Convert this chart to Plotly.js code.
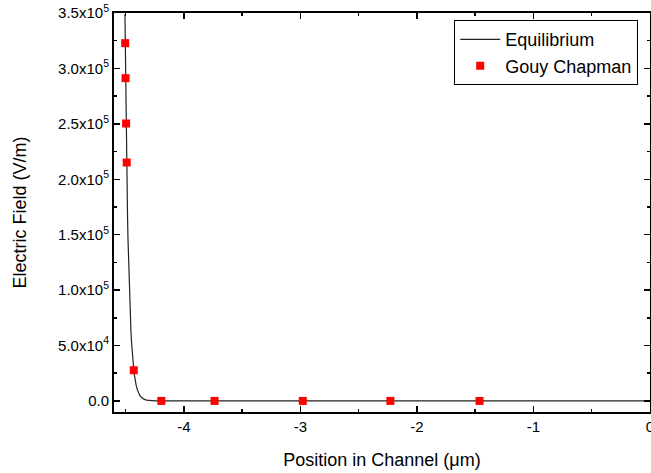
<!DOCTYPE html>
<html>
<head>
<meta charset="utf-8">
<script src="https://cdn.plot.ly/plotly-3.0.1.min.js"></script>
<style>html,body{margin:0;padding:0;background:#fff;}#chart{width:651px;height:473px;}</style>
</head>
<body>
<div id="chart"></div>
<script>
// Equilibrium curve
const eqX = [-4.506, -4.503, -4.500, -4.496, -4.492, -4.488, -4.484, -4.480, -4.475, -4.470,
             -4.465, -4.460, -4.455, -4.450, -4.445, -4.440, -4.435, -4.430, -4.425, -4.420,
             -4.410, -4.400, -4.390, -4.380, -4.370, -4.360, -4.350, -4.340, -4.320, -4.300,
             -4.250, -4.200, -4.000, -3.000, -2.000, -1.000, 0.000];
const eqY = [348800, 315700, 285700, 250000, 218800, 191500, 167600, 146600, 124100, 105100,
             89000, 75300, 63700, 53900, 45700, 38700, 32700, 27700, 23400, 19800,
             14200, 10200, 7300, 5200, 3750, 2700, 1900, 1400, 700, 360,
             70, 0, 0, 0, 0, 0, 0];
// Gouy Chapman points
const gcX = [-4.504, -4.501, -4.496, -4.491, -4.430, -4.194, -3.737, -2.980, -2.228, -1.463];
const gcY = [322800, 291200, 250300, 215100, 27700, 0, 0, 0, 0, 0];
// Tick labels
const xTickVals = [-4, -3, -2, -1, 0];
const xTickText = ["-4", "-3", "-2", "-1", "0"];
const yTickVals = [0, 50000, 100000, 150000, 200000, 250000, 300000, 350000];
const yTickText = ["0.0", "5.0x10<sup>4</sup>", "1.0x10<sup>5</sup>", "1.5x10<sup>5</sup>",
                   "2.0x10<sup>5</sup>", "2.5x10<sup>5</sup>", "3.0x10<sup>5</sup>", "3.5x10<sup>5</sup>"];

const FONT = "Liberation Sans, Arial, sans-serif";

const traces = [
  {x: eqX, y: eqY, type: 'scatter', mode: 'lines', name: 'Equilibrium',
   line: {color: '#222', width: 1.2}},
  {x: gcX, y: gcY, type: 'scatter', mode: 'markers', name: 'Gouy Chapman',
   marker: {symbol: 'square', color: '#ff0000', size: 8, line: {width: 0}}}
];

const layout = {
  width: 651, height: 473,
  margin: {l: 114, r: 1, t: 13, b: 61},
  paper_bgcolor: '#fff', plot_bgcolor: '#fff',
  font: {family: FONT, color: '#000', size: 15},
  showlegend: true,
  legend: {x: 0.978, xanchor: 'right', y: 0.982, yanchor: 'top',
           bgcolor: '#fff', bordercolor: '#000', borderwidth: 1,
           font: {family: FONT, size: 18, color: '#000'}, itemwidth: 40,
           tracegroupgap: 0},
  xaxis: {
    range: [-4.6, 0], showgrid: false, zeroline: false,
    showline: true, linecolor: '#000', linewidth: 2, mirror: 'allticks',
    ticks: 'inside', ticklen: 6, tickwidth: 1.5, tickcolor: '#000',
    tickvals: xTickVals, ticktext: xTickText, ticklabeloverflow: 'allow',
    tickfont: {family: FONT, size: 15, color: '#000'},
    minor: {dtick: 0.5, tick0: 0, ticks: 'inside', ticklen: 3, tickwidth: 1.5, tickcolor: '#000', showgrid: false},
    title: {text: 'Position in Channel (\u03bcm)', font: {family: FONT, size: 18, color: '#000'}, standoff: 19}
  },
  yaxis: {
    range: [-10000, 350000], showgrid: false, zeroline: false,
    showline: true, linecolor: '#000', linewidth: 2, mirror: 'allticks',
    ticks: 'inside', ticklen: 6, tickwidth: 1.5, tickcolor: '#000',
    tickvals: yTickVals, ticktext: yTickText, ticklabeloverflow: 'allow',
    tickfont: {family: FONT, size: 15, color: '#000'},
    minor: {dtick: 25000, tick0: 0, ticks: 'inside', ticklen: 3, tickwidth: 1.5, tickcolor: '#000', showgrid: false},
    title: {text: 'Electric Field (V/m)', font: {family: FONT, size: 18, color: '#000'}, standoff: 27}
  }
};

Plotly.newPlot('chart', traces, layout, {staticPlot: true, displayModeBar: false});
</script>
</body>
</html>
